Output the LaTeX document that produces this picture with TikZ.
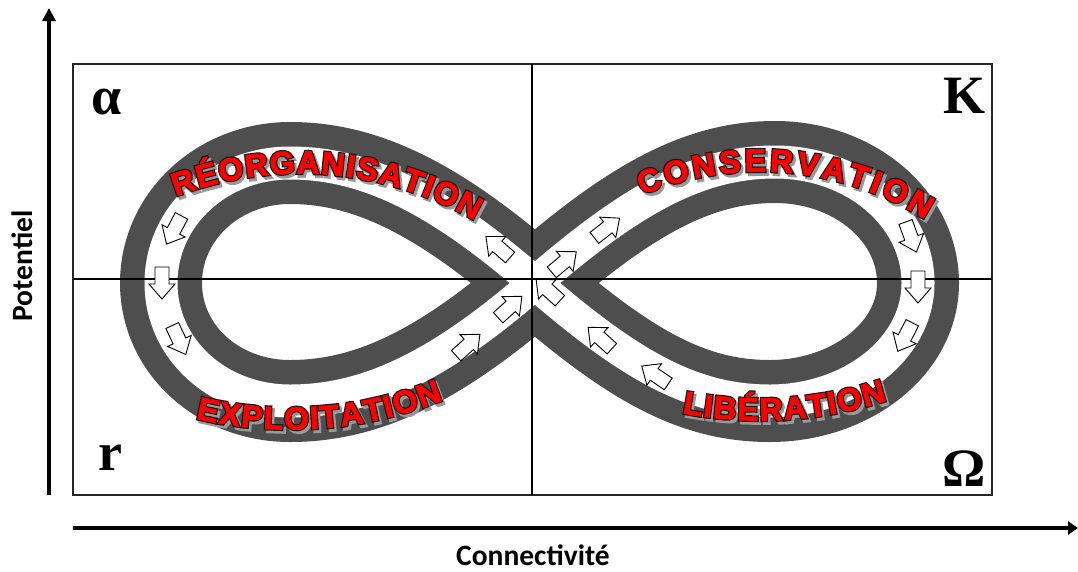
\documentclass[tikz,border=0pt]{standalone}
\usepackage{fontspec}
\usetikzlibrary{arrows.meta,decorations.text}
\setmainfont{Liberation Serif}
\newfontfamily\lblfamR{Liberation Sans}[FakeBold=2.5]
\newfontfamily\lblfamO{Liberation Sans}[FakeBold=10]
\newfontfamily\axfam{Carlito}
\newfontfamily\grkfam{Liberation Serif}
\definecolor{bandgray}{RGB}{78,78,78}
\newcommand\lblfontR{\lblfamR\bfseries\fontsize{32}{36}\selectfont}
\newcommand\lblfontO{\lblfamO\bfseries\fontsize{32}{36}\selectfont}
\newcommand\redlabel[6]{%
  \foreach \ox/\oy/\tcol/\fnt in {2.4/2.8/black!40/\lblfontO,0/0/black!90/\lblfontO,0/0/red/\lblfontR}{%
    \path[shift={(\ox,\oy)},decorate,decoration={text along path,text={|\fnt|#6},text align=fit to path,raise=-11.5pt,text color=\tcol}]
      plot[domain=0:1,samples=40,variable=\s] ({#1+#3*cos(#4+(#5-#4)*\s)},{#2+#3*sin(#4+(#5-#4)*\s)});
  }}
\tikzset{
  flowarrow/.pic={\draw[fill=white,draw=black,line width=0.9,line join=miter]
      (-16,-7) -- (1,-7) -- (1,-13) -- (16,0) -- (1,13) -- (1,7) -- (-16,7) -- cycle;},
  band/.style={draw=bandgray,line width=24.5,double=white,double distance=33,line join=round},
  grk/.style={font=\grkfam\bfseries\fontsize{54}{60}\selectfont,inner sep=0pt},
  axlbl/.style={font=\axfam\bfseries\fontsize{29.5}{33}\selectfont,inner sep=0pt},
  axis/.style={line width=4,-{Triangle[width=13pt,length=13pt]}},
  gridline/.style={line width=1.8,black}
}
\begin{document}
\begin{tikzpicture}[x=1pt,y=-1pt]
\useasboundingbox (0,0) rectangle (1078,571);
% frame
\draw[line width=1.2,black!85] (73,64) rectangle (992,495);
% figure-eight band
\coordinate (X) at (535,283);
\draw[band] (X) .. controls (437,197.6) and (365,163) .. (290,163)
  .. controls (219,163) and (161,216) .. (161,283)
  .. controls (161,350) and (219,401) .. (290,401)
  .. controls (365,401) and (437,368.4) .. (X)
  .. controls (633,197.6) and (700,162) .. (775,162)
  .. controls (854,162) and (918,216) .. (918,283)
  .. controls (918,350) and (849,401) .. (770,401)
  .. controls (695,401) and (633,368.4) .. (X) -- cycle;
% quadrant lines
\coordinate (vt) at (532,64); \coordinate (vb) at (532,495);
\coordinate (hl) at (73,279); \coordinate (hr) at (992,279);
\draw[gridline] (vt) -- (vb);
\draw[gridline] (hl) -- (hr);
% flow arrows
\pic[rotate=139] at (498,247) {flowarrow};
\pic[rotate=-118] at (174,230) {flowarrow};
\pic[rotate=-90] at (162,283) {flowarrow};
\pic[rotate=-65] at (179,340) {flowarrow};
\pic[rotate=42] at (468,345) {flowarrow};
\pic[rotate=42] at (510,307) {flowarrow};
\pic[rotate=40] at (564,262) {flowarrow};
\pic[rotate=38] at (607,228) {flowarrow};
\pic[rotate=-70] at (911,237) {flowarrow};
\pic[rotate=-90] at (918,287) {flowarrow};
\pic[rotate=-117] at (905,337) {flowarrow};
\pic[rotate=146] at (655,375) {flowarrow};
\pic[rotate=138] at (600,338) {flowarrow};
\pic[rotate=138] at (548,290) {flowarrow};
% curved labels
\redlabel{300}{522}{360}{249.2}{300}{RÉORGANISATION}
\redlabel{760}{480}{320}{247.6}{302.3}{CONSERVATION}
\redlabel{290}{18}{400}{103.3}{68.1}{EXPLOITATION}
\redlabel{760}{9}{400}{100.95}{71.94}{LIBÉRATION}
% corner letters
\node[grk] (alpha) at (107,102) {α};
\node[grk] (kappa) at (964,96) {K};
\node[grk] (rr) at (110,458) {r};
\node[grk] (omega) at (964,469) {Ω};
% axes
\coordinate (yb) at (49,495); \coordinate (yt) at (49,8);
\coordinate (xl) at (73,528); \coordinate (xr) at (1078,528);
\draw[axis] (yb) -- (yt);
\draw[axis,-{Triangle[width=13pt,length=10pt]}] (xl) -- (xr);
\node[axlbl,rotate=90] (pot) at (22,266) {Potentiel};
\node[axlbl] (con) at (533,555) {Connectivité};
\end{tikzpicture}
\end{document}
